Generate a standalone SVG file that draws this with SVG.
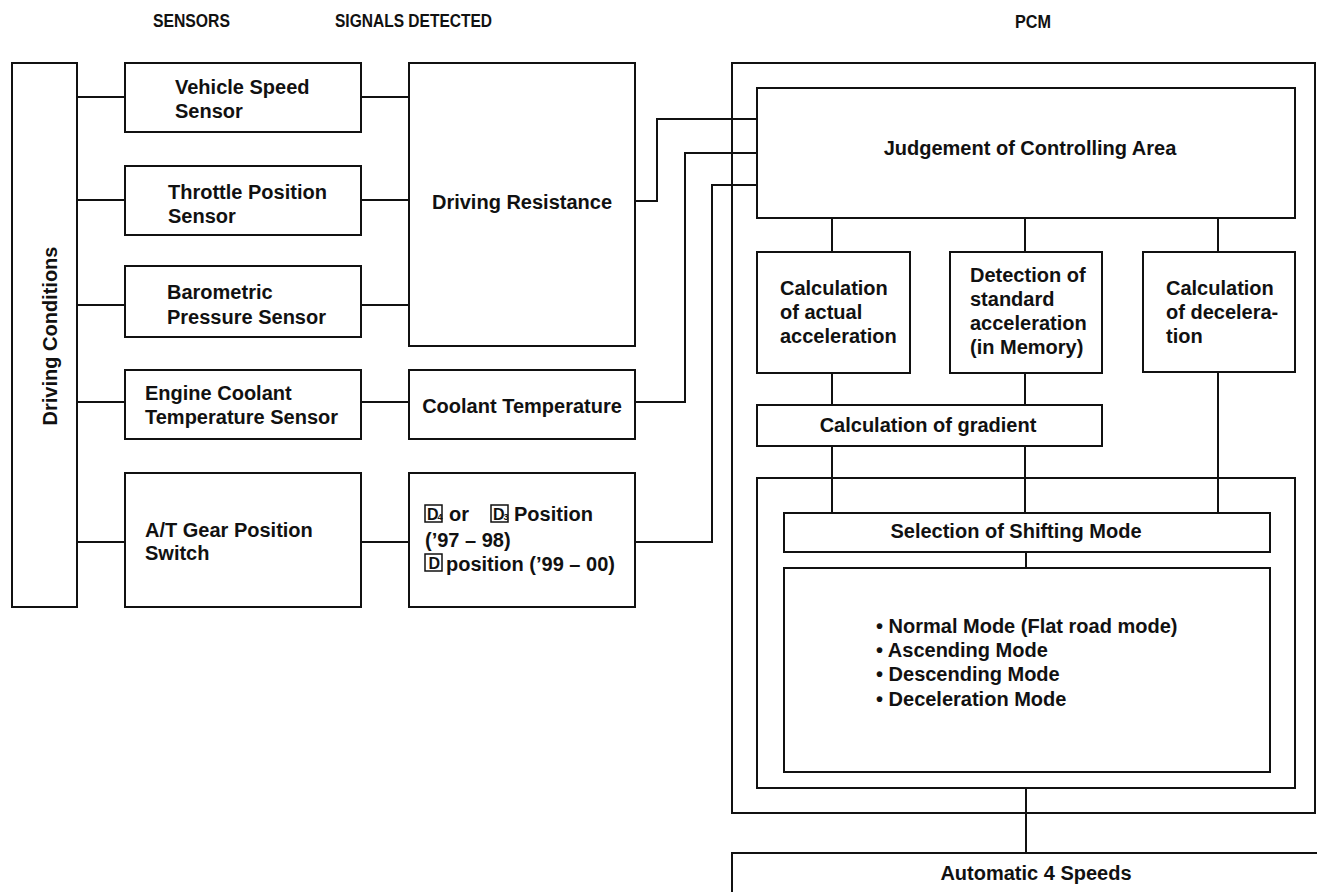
<svg xmlns="http://www.w3.org/2000/svg" width="1317" height="892" viewBox="0 0 1317 892">
<style>
.box{fill:#fff;stroke:#111;stroke-width:2}
.ln{fill:none;stroke:#111;stroke-width:2}
text{font-family:"Liberation Sans",Arial,sans-serif;font-weight:bold;font-size:20px;fill:#111}
.hd{font-size:19px}
.mid{text-anchor:middle}
.sq{fill:none;stroke:#111;stroke-width:1.5}
.dl{font-size:16px}
.sub{font-size:9px}
</style>
<rect width="1317" height="892" fill="#fff"/>
<g id="headers">
<text class="hd" x="153" y="27" textLength="77" lengthAdjust="spacingAndGlyphs">SENSORS</text>
<text class="hd" x="335" y="27" textLength="157" lengthAdjust="spacingAndGlyphs">SIGNALS DETECTED</text>
<text class="hd" x="1015" y="28" textLength="36" lengthAdjust="spacingAndGlyphs">PCM</text>
</g>
<g id="pcm-outer"><rect class="box" x="732" y="63" width="583" height="750"/></g>
<g id="auto4"><rect class="box" x="732" y="853" width="600" height="60"/><text class="mid" x="1036" y="880">Automatic 4 Speeds</text></g>
<g id="connectors">
<path class="ln" d="M77 97H125M77 200H125M77 305H125M77 402H125M77 542H125"/>
<path class="ln" d="M361 97H409M361 200H409M361 305H409M361 402H409M361 542H409"/>
<path class="ln" d="M635 201H657V119H757"/>
<path class="ln" d="M635 402H685V153H757"/>
<path class="ln" d="M635 542H712V185H757"/>
<path class="ln" d="M832 218V252M1025 218V252M1218 218V252"/>
<path class="ln" d="M832 373V405M1025 373V405"/>
<path class="ln" d="M832 446V513M1025 446V513M1218 372V513"/>
<path class="ln" d="M1026 552V568"/>
<path class="ln" d="M1026 788V853"/>
</g>
<g id="driving-conditions"><rect class="box" x="12" y="63" width="65" height="544"/><text class="mid" transform="translate(57 336) rotate(-90)">Driving Conditions</text></g>
<g id="vss"><rect class="box" x="125" y="63" width="236" height="69"/><text x="175" y="94">Vehicle Speed</text><text x="175" y="118">Sensor</text></g>
<g id="tps"><rect class="box" x="125" y="166" width="236" height="69"/><text x="168" y="199">Throttle Position</text><text x="168" y="223">Sensor</text></g>
<g id="bps"><rect class="box" x="125" y="266" width="236" height="71"/><text x="167" y="299">Barometric</text><text x="167" y="324">Pressure Sensor</text></g>
<g id="ect"><rect class="box" x="125" y="370" width="236" height="69"/><text x="145" y="400">Engine Coolant</text><text x="145" y="424">Temperature Sensor</text></g>
<g id="atgear"><rect class="box" x="125" y="473" width="236" height="134"/><text x="145" y="537">A/T Gear Position</text><text x="145" y="560">Switch</text></g>
<g id="driving-resistance"><rect class="box" x="409" y="63" width="226" height="283"/><text class="mid" x="522" y="209">Driving Resistance</text></g>
<g id="coolant-temp"><rect class="box" x="409" y="370" width="226" height="69"/><text class="mid" x="522" y="413">Coolant Temperature</text></g>
<g id="position"><rect class="box" x="409" y="473" width="226" height="134"/>
<rect class="sq" x="425" y="505" width="17" height="17"/><text class="dl" x="427" y="520">D</text><text class="sub" x="437.5" y="520">4</text>
<text x="449" y="521">or</text>
<rect class="sq" x="491" y="505" width="17" height="17"/><text class="dl" x="493" y="520">D</text><text class="sub" x="503.5" y="520">3</text>
<text x="514" y="521">Position</text>
<text x="425" y="547">(’97 – 98)</text>
<rect class="sq" x="425" y="554" width="17" height="17"/><text class="dl" x="428.5" y="569">D</text>
<text x="446" y="571">position (’99 – 00)</text>
</g>
<g id="judgement"><rect class="box" x="757" y="88" width="538" height="130"/><text class="mid" x="1030" y="155">Judgement of Controlling Area</text></g>
<g id="calc-actual"><rect class="box" x="757" y="252" width="153" height="121"/><text x="780" y="295">Calculation</text><text x="780" y="319">of actual</text><text x="780" y="343">acceleration</text></g>
<g id="detection"><rect class="box" x="950" y="252" width="152" height="121"/><text x="970" y="282">Detection of</text><text x="970" y="306">standard</text><text x="970" y="330">acceleration</text><text x="970" y="354">(in Memory)</text></g>
<g id="calc-decel"><rect class="box" x="1143" y="252" width="152" height="120"/><text x="1166" y="295">Calculation</text><text x="1166" y="319">of decelera-</text><text x="1166" y="343">tion</text></g>
<g id="calc-gradient"><rect class="box" x="757" y="405" width="345" height="41"/><text class="mid" x="928" y="432">Calculation of gradient</text></g>
<g id="mode-frame"><rect class="ln" x="757" y="478" width="538" height="310"/></g>
<g id="selection"><rect class="box" x="784" y="513" width="486" height="39"/><text class="mid" x="1016" y="538">Selection of Shifting Mode</text></g>
<g id="modes"><rect class="box" x="784" y="568" width="486" height="204"/>
<text x="876" y="633">• Normal Mode (Flat road mode)</text>
<text x="876" y="657">• Ascending Mode</text>
<text x="876" y="681">• Descending Mode</text>
<text x="876" y="706">• Deceleration Mode</text>
</g>
</svg>
